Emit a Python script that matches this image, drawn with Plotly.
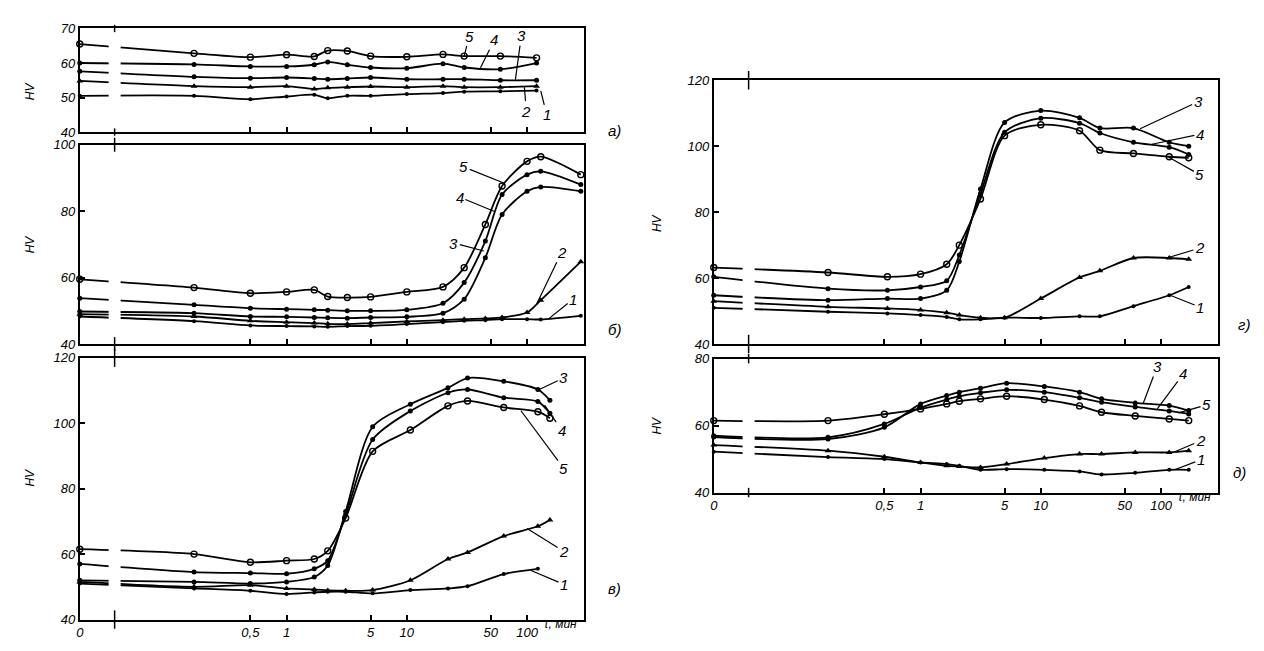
import math
import plotly.graph_objects as go

W, H = 1264, 651

# ---------------- data (tau in minutes, 0 = initial state; HV) ----------------
# panel a)
A_TAU = [0, 0.17, 0.5, 1, 1.7, 2.2, 3.2, 5, 10, 20, 30, 60, 120]
A_HV1 = [50.5, 50.5, 49.5, 50.3, 50.8, 49.8, 50.5, 50.5, 51.0, 51.3, 51.7, 51.8, 52.0]
A_HV2 = [54.8, 53.3, 53.0, 53.3, 52.5, 52.8, 53.0, 53.2, 53.0, 53.3, 53.0, 53.0, 53.3]
A_HV3 = [57.6, 56.0, 55.6, 55.8, 55.5, 55.3, 55.5, 55.8, 55.3, 55.3, 55.3, 55.0, 55.0]
A_HV4 = [60.0, 59.6, 59.0, 59.0, 59.5, 60.3, 59.5, 58.7, 58.5, 59.8, 58.7, 58.2, 60.0]
A_HV5 = [65.5, 62.8, 61.7, 62.4, 61.9, 63.6, 63.5, 62.0, 61.8, 62.5, 62.0, 62.0, 61.5]

# panel б)
B_TAU = [0, 0.17, 0.5, 1, 1.7, 2.2, 3.2, 5, 10, 20, 30, 45, 62, 100, 130, 280]
B_HV1 = [48.3, 46.9, 45.6, 45.4, 45.3, 45.2, 45.4, 45.5, 46.0, 46.6, 47.0, 47.2, 47.5, 47.5, 47.4, 48.5]
B_HV2 = [49.0, 48.3, 47.0, 46.6, 46.3, 46.1, 46.0, 46.3, 46.8, 47.2, 47.5, 47.7, 48.0, 49.5, 53.2, 64.8]
B_HV3 = [49.8, 49.3, 48.3, 48.2, 48.0, 47.9, 47.8, 48.0, 48.2, 49.3, 53.5, 66.0, 79.0, 86.0, 87.3, 86.0]
B_HV4 = [53.8, 51.8, 50.8, 50.5, 50.3, 50.2, 50.0, 50.0, 50.3, 52.3, 58.5, 71.0, 85.0, 91.0, 92.0, 88.0]
B_HV5 = [59.5, 57.0, 55.3, 55.7, 56.3, 54.3, 54.0, 54.2, 55.7, 57.2, 63.0, 76.0, 87.6, 95.0, 96.4, 91.0]

# panel в)
V_TAU = [0, 0.17, 0.5, 1, 1.7, 2.2, 3.1, 5.2, 10.7, 22, 32, 64, 123, 155]
V_HV1 = [51.0, 49.5, 48.8, 47.8, 48.3, 48.5, 48.5, 48.0, 49.0, 49.5, 50.2, 53.9, 55.5, None]
V_HV2 = [51.5, 50.0, 50.5, 49.5, 49.2, 48.9, 48.8, 49.0, 52.0, 58.5, 60.5, 65.5, 68.5, 70.4]
V_HV3 = [52.0, 51.5, 51.0, 51.5, 53.0, 56.5, 73.0, 98.9, 105.8, 110.8, 113.8, 112.8, 110.3, 107.0]
V_HV4 = [57.0, 54.5, 54.2, 54.0, 55.5, 58.0, 72.0, 95.0, 103.7, 109.3, 110.3, 107.8, 106.6, 103.0]
V_HV5 = [61.5, 60.0, 57.5, 58.0, 58.5, 61.0, 71.0, 91.4, 97.9, 105.3, 106.8, 104.8, 103.5, 101.5]

# panel г)
G_TAU = [0, 0.17, 0.53, 1, 1.65, 2.1, 3.15, 5, 10, 21, 31, 59, 117, 170]
G_HV1 = [51.0, 49.8, 49.3, 48.8, 48.2, 47.5, 47.5, 48.0, 47.9, 48.4, 48.4, 51.5, 54.8, 57.3]
G_HV2 = [53.0, 51.3, 50.8, 50.3, 49.5, 48.8, 48.0, 48.0, 53.8, 60.2, 62.2, 66.1, 66.1, 65.7]
G_HV3 = [54.8, 53.3, 53.8, 53.8, 56.3, 65.0, 87.0, 107.2, 110.8, 108.6, 105.5, 105.5, 101.2, 100.0]
G_HV4 = [60.4, 56.8, 56.3, 57.3, 59.2, 67.0, 85.5, 104.2, 108.5, 107.0, 104.0, 101.2, 99.7, 97.5]
G_HV5 = [63.2, 61.7, 60.4, 61.2, 64.2, 70.0, 84.0, 103.2, 106.5, 104.7, 98.8, 97.8, 96.8, 96.5]

# panel д)
D_TAU = [0, 0.17, 0.5, 1, 1.65, 2.1, 3.15, 5.2, 10.7, 21, 32, 61, 117, 170]
D_HV1 = [52.2, 50.6, 50.0, 49.0, 48.5, 48.0, 46.8, 47.0, 46.8, 46.3, 45.4, 45.9, 46.8, 46.8]
D_HV2 = [54.2, 52.5, 50.7, 49.0, 48.0, 47.8, 47.5, 48.5, 50.3, 51.5, 51.5, 52.0, 52.0, 52.5]
D_HV3 = [56.6, 56.0, 59.5, 66.5, 69.0, 70.0, 71.2, 72.7, 71.7, 70.0, 68.0, 66.8, 66.0, 64.5]
D_HV4 = [57.0, 56.5, 60.5, 65.4, 67.8, 68.8, 69.8, 70.7, 70.0, 68.3, 67.0, 65.6, 64.4, 63.5]
D_HV5 = [61.5, 61.5, 63.4, 65.0, 66.5, 67.3, 68.0, 68.8, 67.8, 65.9, 64.0, 62.9, 62.0, 61.5]

X_TICKS = [0.5, 1, 5, 10, 50, 100]
X_TICK_TEXT = ["0,5", "1", "5", "10", "50", "100"]

# ---------------- layout helpers ----------------
LOG_L, LOG_R = -1.72, 2.475
ZERO_TAU = 10 ** LOG_L          # where tau = 0 is drawn (left axis)
BREAK_L, BREAK_R = -1.48, -1.38  # axis break (log10 units)
BREAK_MARK = -1.43

FONT = "Liberation Sans"


def fx(px):
    return px / W


def fy(py):
    return 1 - py / H


def xdom(logv):
    return (logv - LOG_L) / (LOG_R - LOG_L)


LEFT = (76, 582)
RIGHT = (712, 1218)

panels = [
    dict(name="а)", tau=A_TAU, hv=[A_HV1, A_HV2, A_HV3, A_HV4, A_HV5], yr=(40, 70),
         yt=[40, 50, 60, 70], xd=LEFT, yd=(22, 128), bottom=False, lab=(612, 116),
         nums=[(1, 130, 51.9, 6, 24), (2, 95, 53.0, 2, 24), (3, 80, 55.2, 6, -44),
               (4, 41, 58.6, 14, -28), (5, 30, 62.0, 5, -20)]),
    dict(name="б)", tau=B_TAU, hv=[B_HV1, B_HV2, B_HV3, B_HV4, B_HV5], yr=(40, 100),
         yt=[40, 60, 80, 100], xd=LEFT, yd=(141, 345), bottom=False, lab=(612, 330),
         nums=[(1, 150, 47.5, 25, -20), (2, 120, 52.0, 25, -52), (3, 43.7, 68.0, -30, -8),
               (4, 53, 80.0, -34, -14), (5, 64, 88.5, -40, -16)]),
    dict(name="в)", tau=V_TAU, hv=[V_HV1, V_HV2, V_HV3, V_HV4, V_HV5], yr=(40, 120),
         yt=[40, 60, 80, 100, 120], xd=LEFT, yd=(359, 627), bottom=True, lab=(612, 606),
         nums=[(1, 108, 55.0, 33, 14), (2, 100, 67.8, 37, 23), (3, 125, 110.2, 25, -12),
               (4, 140, 105.5, 17, 25), (5, 89, 103.8, 43, 58)]),
    dict(name="г)", tau=G_TAU, hv=[G_HV1, G_HV2, G_HV3, G_HV4, G_HV5], yr=(40, 120),
         yt=[40, 60, 80, 100, 120], xd=RIGHT, yd=(75, 345), bottom=False, lab=(1252, 325),
         nums=[(1, 119, 54.8, 30, 12), (2, 112, 66.1, 33, -10), (3, 67, 105.3, 58, -27),
               (4, 84, 100.6, 48, -10), (5, 114, 96.8, 32, 18)]),
    dict(name="д)", tau=D_TAU, hv=[D_HV1, D_HV2, D_HV3, D_HV4, D_HV5], yr=(40, 80),
         yt=[40, 60, 80], xd=RIGHT, yd=(360, 497), bottom=True, lab=(1248, 487),
         nums=[(1, 130, 46.8, 26, -10), (2, 130, 52.2, 26, -11), (3, 71, 66.6, 14, -37),
               (4, 93, 65.0, 26, -35), (5, 140, 63.8, 28, -8)]),
]

MARKERS = [
    dict(symbol="circle", size=4, color="black"),
    dict(symbol="triangle-up", size=6, color="black"),
    dict(symbol="circle", size=5, color="black"),
    dict(symbol="circle", size=5, color="black"),
    dict(symbol="circle-open", size=6, color="black", line=dict(width=1.4, color="black")),
]

fig = go.Figure()
annotations = []
shapes = []
layout = dict(
    width=W, height=H, margin=dict(l=0, r=0, t=0, b=0),
    paper_bgcolor="white", plot_bgcolor="white", showlegend=False,
)

tick_font = dict(family=FONT, size=13, color="black", style="italic")

for i, p in enumerate(panels, start=1):
    xa = "x" if i == 1 else f"x{i}"
    ya = "y" if i == 1 else f"y{i}"
    xkey = "xaxis" if i == 1 else f"xaxis{i}"
    ykey = "yaxis" if i == 1 else f"yaxis{i}"

    xs = [ZERO_TAU if t == 0 else t for t in p["tau"]]
    for k, hv in enumerate(p["hv"]):
        fig.add_trace(go.Scatter(
            x=xs, y=hv, mode="lines+markers", xaxis=xa, yaxis=ya,
            line=dict(color="black", width=1.8, shape="spline", smoothing=0.8),
            marker=MARKERS[k], cliponaxis=False, hoverinfo="x+y",
            name=f"{p['name']} {k + 1}",
        ))

    if p["bottom"]:
        tv = [ZERO_TAU] + X_TICKS
        tt = ["0"] + X_TICK_TEXT
    else:
        tv, tt = X_TICKS, X_TICK_TEXT

    layout[xkey] = dict(
        type="log", range=[LOG_L, LOG_R],
        domain=[fx(p["xd"][0]), fx(p["xd"][1])], anchor=ya,
        showline=True, mirror=True, linecolor="black", linewidth=2,
        ticks="inside", ticklen=5, tickwidth=1.5, tickcolor="black",
        tickvals=tv, ticktext=tt, showticklabels=p["bottom"],
        tickfont=tick_font, showgrid=False, zeroline=False, fixedrange=True,
    )
    layout[ykey] = dict(
        range=list(p["yr"]), domain=[fy(p["yd"][1]), fy(p["yd"][0])], anchor=xa,
        showline=True, mirror=True, linecolor="black", linewidth=2,
        ticks="inside", ticklen=5, tickwidth=1.5, tickcolor="black",
        tickvals=p["yt"], tickfont=tick_font, showgrid=False, zeroline=False,
        fixedrange=True,
    )

    # axis break: gap in curves and marks on the frame
    shapes.append(dict(type="rect", xref=f"{xa} domain", yref=f"{ya} domain",
                       x0=xdom(BREAK_L), x1=xdom(BREAK_R), y0=0.02, y1=0.98,
                       fillcolor="white", line=dict(width=0), layer="above"))
    for y0, y1 in ((-0.035, 0.035), (0.965, 1.035)):
        shapes.append(dict(type="line", xref=f"{xa} domain", yref=f"{ya} domain",
                           x0=xdom(BREAK_MARK), x1=xdom(BREAK_MARK), y0=y0, y1=y1,
                           line=dict(color="black", width=1.5), layer="above"))

    # HV axis title
    hv_x = 17 if p["xd"] == LEFT else 655
    annotations.append(dict(
        xref="paper", yref="paper", x=fx(hv_x), y=fy((p["yd"][0] + p["yd"][1]) / 2),
        text="HV", textangle=-90, showarrow=False,
        font=dict(family=FONT, size=12, color="black", style="italic"),
    ))
    # panel letter
    annotations.append(dict(
        xref="paper", yref="paper", x=fx(p["lab"][0]), y=fy(p["lab"][1]),
        text=p["name"], showarrow=False,
        font=dict(family=FONT, size=15, color="black", style="italic"),
    ))
    # curve numbers with leader lines
    for n, t, v, ax, ay in p["nums"]:
        annotations.append(dict(
            xref=xa, yref=ya, x=math.log10(t), y=v, text=str(n),
            showarrow=True, arrowhead=0, arrowwidth=1.2, arrowcolor="black",
            ax=ax, ay=ay, standoff=0,
            font=dict(family=FONT, size=15, color="black", style="italic"),
        ))

# time unit labels
for px, py in ((540, 641), (1176, 511)):
    annotations.append(dict(
        xref="paper", yref="paper", x=fx(px), y=fy(py), xanchor="left",
        text="τ, мин", showarrow=False,
        font=dict(family=FONT, size=12, color="black", style="italic"),
    ))

layout["annotations"] = annotations
layout["shapes"] = shapes
fig.update_layout(**layout)

fig.write_html("out.html")
